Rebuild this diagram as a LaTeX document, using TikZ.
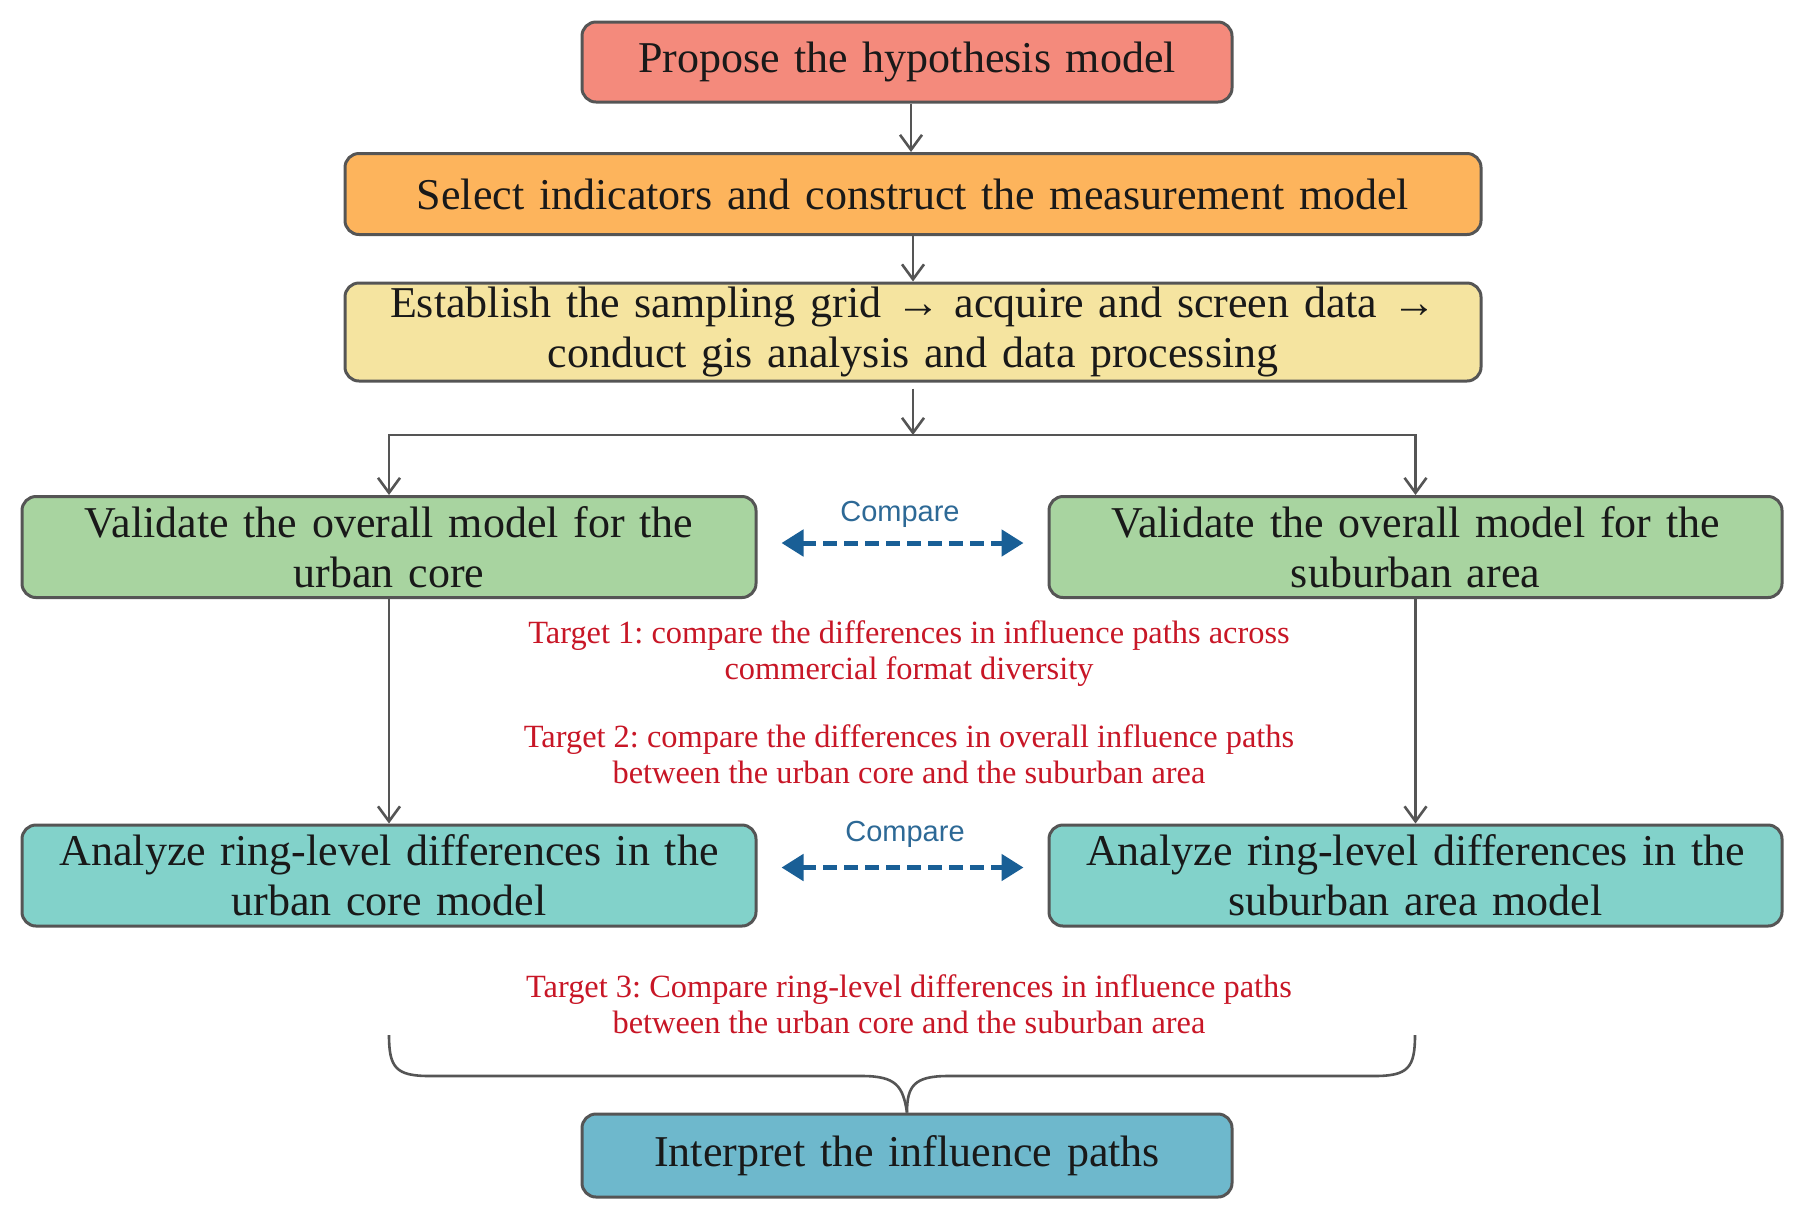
\documentclass[tikz,border=0pt]{standalone}
\usepackage{fontspec}
\setmainfont{Liberation Serif}
\newfontfamily\cmpfont{Liberation Sans}
\usetikzlibrary{arrows.meta,calc}
\definecolor{edgegray}{RGB}{85,85,85}
\definecolor{cRed}{RGB}{244,138,124}
\definecolor{cOrange}{RGB}{253,180,92}
\definecolor{cYellow}{RGB}{245,228,160}
\definecolor{cGreen}{RGB}{168,212,160}
\definecolor{cTeal}{RGB}{130,210,202}
\definecolor{cBlue}{RGB}{110,184,204}
\definecolor{targetred}{RGB}{200,22,38}
\definecolor{cmpblue}{RGB}{25,95,150}
\definecolor{cmptext}{RGB}{45,105,150}
\frenchspacing
\begin{document}
\begin{tikzpicture}[x=0.5pt,y=-0.5pt,
  box/.style={draw=edgegray, line width=1.5pt, rounded corners=7pt, inner sep=0pt,
    align=center, text=black!90, font=\fontsize{22}{25}\selectfont},
  flow/.style={draw=edgegray, line width=1.3pt, -{Straight Barb[length=7.5pt,width=11pt,line width=1.3pt]}},
  plain/.style={draw=edgegray, line width=1.3pt},
  cmp/.style={draw=cmpblue, line width=2.5pt, dash pattern=on 7pt off 3.5pt,
    {Triangle[length=11pt,width=13pt]}-{Triangle[length=11pt,width=13pt]}},
  cmplabel/.style={text=cmptext, font=\cmpfont\fontsize{14.5}{16}\selectfont},
  target/.style={text=targetred, align=center, font=\fontsize{16.2}{18}\selectfont}
]
\useasboundingbox[fill=white] (0,0) rectangle (1804,1223);

\node[box, fill=cRed, text width=325pt, minimum height=40pt] (p1) at (907,62) {Propose the hypothesis model};
\node[box, fill=cOrange, text width=568pt, minimum height=40.5pt] (p2) at (913,194) {Select indicators and construct the measurement model};
\node[box, fill=cYellow, text width=568pt, minimum height=49pt] (p3) at (913,332) {Establish the sampling grid → acquire and screen data →\\conduct gis analysis and data processing};

\node[box, fill=cGreen, text width=367pt, minimum height=50.5pt] (g1) at (389,547) {Validate the overall model for the\\urban core};
\node[box, fill=cGreen, text width=366.5pt, minimum height=50.5pt] (g2) at (1415.5,547) {Validate the overall model for the\\suburban area};

\node[box, fill=cTeal, text width=367pt, minimum height=50.5pt] (t1) at (389,875.5) {Analyze ring-level differences in the\\urban core model};
\node[box, fill=cTeal, text width=366.5pt, minimum height=50.5pt] (t2) at (1415.5,875.5) {Analyze ring-level differences in the\\suburban area model};

\node[box, fill=cBlue, text width=325pt, minimum height=41.5pt] (f) at (907,1155.5) {Interpret the influence paths};

\node[target] (tg1) at (909,654) {Target 1: compare the differences in influence paths across\\commercial format diversity};
\node[target] (tg2) at (909,754) {Target 2: compare the differences in overall influence paths\\between the urban core and the suburban area};
\node[target] (tg3) at (909,1004) {Target 3: Compare ring-level differences in influence paths\\between the urban core and the suburban area};

\node[cmplabel] (c1) at (900,514) {Compare};
\node[cmplabel] (c2) at (905,834) {Compare};

% flow
\draw[flow] ([xshift=2pt]p1.south) -- ([xshift=2pt]p1.south |- p2.north);
\draw[flow] (p2) -- (p3);
\coordinate (j) at (913,435);
\draw[flow] ([yshift=-3pt]p3.south) -- (j);
\draw[flow] (j) -| (g1.north);
\draw[flow] (j) -| (g2.north);
\draw[flow] (g1) -- (t1);
\draw[flow] (g2) -- (t2);

% compare arrows
\draw[cmp] ([xshift=12pt,yshift=2pt]g1.east) -- ([xshift=-12pt,yshift=2pt]g2.west);
\draw[cmp] ([xshift=12pt,yshift=4pt]t1.east) -- ([xshift=-12pt,yshift=4pt]t2.west);

% brace
\coordinate (bl) at (389,1035);
\coordinate (br) at (1415,1035);
\draw[plain, line join=round] (bl) .. controls (389,1068) and (396,1076) .. (430,1076) -- (862,1076)
   .. controls (896,1076) and (903,1086) .. (f.north);
\draw[plain, line join=round] (br) .. controls (1415,1068) and (1408,1076) .. (1374,1076) -- (948,1076)
   .. controls (914,1076) and (907,1086) .. (f.north);
\end{tikzpicture}
\end{document}
